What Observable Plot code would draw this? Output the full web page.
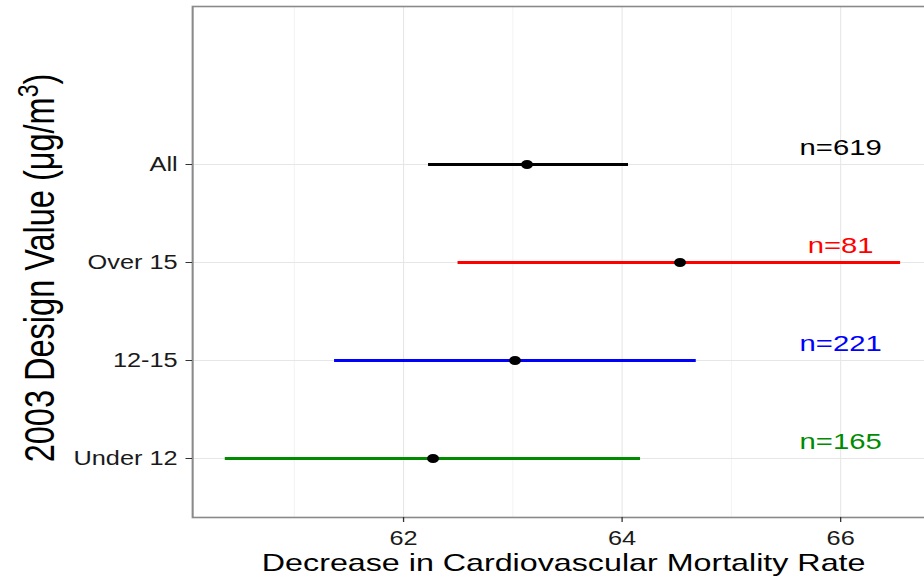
<!DOCTYPE html>
<html>
<head>
<meta charset="utf-8">
<script src="https://cdn.jsdelivr.net/npm/d3@7"></script>
<script src="https://cdn.jsdelivr.net/npm/@observablehq/plot@0.6"></script>
<style>
  html, body { margin: 0; padding: 0; background: #fff; overflow: hidden; }
  #chart { width: 924px; height: 583px; overflow: hidden; }
  #chart svg { transform: scale(1.3, 1); transform-origin: 0 0; overflow: hidden; }
</style>
</head>
<body>
<div id="chart"></div>
<script>
// ---- data ----
const groups    = ["All", "Over 15", "12-15", "Under 12"];
const estimates = [63.13, 64.53, 63.02, 62.27];
const lower     = [62.23, 62.50, 61.37, 60.37];
const upper     = [64.06, 66.55, 64.68, 64.17];
const counts    = [619, 81, 221, 165];
const colors    = ["#000000", "#ff0000", "#0000ff", "#008b00"];
const xTicks    = [62, 64, 66];
const xMinor    = [61, 63, 65];
const labelX    = 66;
const xTitle    = "Decrease in Cardiovascular Mortality Rate";
const yTitle    = "2003 Design Value (μg/m³)";

const rows = groups.map((g, i) => ({
  group: g, estimate: estimates[i], lower: lower[i], upper: upper[i],
  n: counts[i], color: colors[i]
}));

const S = 1.3;               // horizontal stretch of the reference image
const W = 924 / S;

const chart = Plot.plot({
  width: W,
  height: 583,
  marginLeft: 192 / S,
  marginRight: W - 934 / S,
  marginTop: 6,
  marginBottom: 66,
  style: { fontFamily: "'Liberation Sans', Arial, Helvetica, sans-serif", background: "white" },
  x: { domain: [60.07, 66.86] },
  y: { type: "point", domain: groups, padding: 0.588, insetTop: 99 },
  color: { type: "identity" },
  marks: [
    Plot.gridX(xMinor, { stroke: "#f3f3f3", strokeOpacity: 1, strokeWidth: 0.8 }),
    Plot.gridX(xTicks, { stroke: "#e6e6e6", strokeOpacity: 1, strokeWidth: 0.8 }),
    Plot.gridY(groups, { stroke: "#e6e6e6", strokeOpacity: 1, strokeWidth: 1 }),
    Plot.frame({ stroke: "#8a8a8a", strokeWidth: 1.6 }),
    Plot.ruleY(rows, { y: "group", x1: "lower", x2: "upper", stroke: "color", strokeWidth: 3 }),
    Plot.dot(rows, { x: "estimate", y: "group", r: 4.6, fill: "black", stroke: "none" }),
    Plot.text(rows, { x: () => labelX, y: "group", text: d => "n=" + d.n, fill: "color",
                      fontSize: 22.5, dy: -17 }),
    Plot.axisY({ tickSize: 5, tickPadding: 6.5, fontSize: 19.5, label: null,
                 color: "#1a1a1a", stroke: "#333" }),
    Plot.axisX(xTicks, { tickSize: 5, tickPadding: 8.5, fontSize: 19.5, label: null,
                 color: "#1a1a1a", stroke: "#333" }),
    Plot.text([xTitle], { frameAnchor: "bottom", lineAnchor: "top", dy: 35.5,
                          fontSize: 24.8, fill: "#000" }),
    Plot.text([yTitle], { frameAnchor: "left", rotate: -90, dx: 31 - 192 / S, dy: 6,
                          textAnchor: "middle", lineAnchor: "middle", fontSize: 32.5, fill: "#000" })
  ]
});

// render the superscript 3 of the y title as a raised, smaller glyph
chart.querySelectorAll("text").forEach(t => {
  if (t.textContent === yTitle) {
    t.textContent = "";
    const ns = "http://www.w3.org/2000/svg";
    const a = document.createElementNS(ns, "tspan");
    a.textContent = "2003 Design Value (μg/m";
    const b = document.createElementNS(ns, "tspan");
    b.textContent = "3";
    b.setAttribute("font-size", "23");
    b.setAttribute("dy", "-13");
    const c = document.createElementNS(ns, "tspan");
    c.textContent = ")";
    c.setAttribute("dy", "13");
    t.append(a, b, c);
  }
});

document.getElementById("chart").append(chart);
</script>
</body>
</html>
